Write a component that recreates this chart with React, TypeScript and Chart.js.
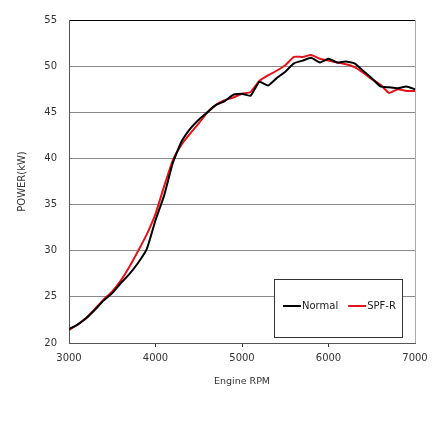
import React, { useEffect, useRef } from 'react';
import { Chart, registerables, ChartConfiguration, Plugin } from 'chart.js';

Chart.register(...registerables);

const rpm = [
  3000, 3100, 3200, 3300, 3400, 3500, 3600, 3700, 3800, 3900,
  4000, 4100, 4200, 4300, 4400, 4500, 4600, 4700, 4800, 4900,
  5000, 5100, 5200, 5300, 5400, 5500, 5600, 5700, 5800, 5900,
  6000, 6100, 6200, 6300, 6400, 6500, 6600, 6700, 6800, 6900, 7000,
];

const normal = [
  21.5, 22.0, 22.7, 23.6, 24.6, 25.4, 26.5, 27.5, 28.7, 30.2,
  33.3, 36.0, 39.5, 41.8, 43.2, 44.2, 45.0, 45.8, 46.2, 46.9,
  47.0, 46.8, 48.3, 47.9, 48.7, 49.4, 50.3, 50.6, 50.9, 50.4,
  50.8, 50.4, 50.5, 50.3, 49.5, 48.7, 47.8, 47.7, 47.6, 47.8, 47.5,
];

const spfR = [
  21.4, 22.0, 22.7, 23.7, 24.7, 25.6, 26.8, 28.3, 30.0, 31.8,
  34.0, 37.0, 39.8, 41.5, 42.7, 43.8, 45.0, 45.8, 46.3, 46.6,
  47.0, 47.2, 48.4, 49.0, 49.5, 50.1, 51.0, 51.0, 51.2, 50.8,
  50.6, 50.4, 50.2, 49.9, 49.3, 48.6, 48.0, 47.1, 47.5, 47.3, 47.3,
];

const seriesNames = ['Normal', 'SPF-R'];
const seriesColors = ['#000000', '#e3131b'];

const FONT = '"DejaVu Sans", Verdana, sans-serif';

// legend box drawn inside the plot, like the original
const boxLegend: Plugin = {
  id: 'boxLegend',
  afterDraw(chart) {
    const { ctx } = chart;
    const x = 274.5;
    const y = 279.5;
    const w = 128;
    const h = 58;
    ctx.save();
    ctx.fillStyle = '#ffffff';
    ctx.fillRect(x, y, w, h);
    ctx.strokeStyle = '#333333';
    ctx.lineWidth = 1;
    ctx.strokeRect(x, y, w, h);
    ctx.font = `10px ${FONT}`;
    ctx.textBaseline = 'middle';
    ctx.textAlign = 'left';
    const cy = 306;
    let cx = 283;
    chart.data.datasets.forEach((ds) => {
      ctx.strokeStyle = ds.borderColor as string;
      ctx.lineWidth = 2;
      ctx.beginPath();
      ctx.moveTo(cx, cy);
      ctx.lineTo(cx + 18, cy);
      ctx.stroke();
      ctx.fillStyle = '#222222';
      ctx.fillText(ds.label as string, cx + 19, cy);
      cx += 19 + ctx.measureText(ds.label as string).width + 10;
    });
    ctx.restore();
  },
};

const App: React.FC = () => {
  const chartRef = useRef<HTMLCanvasElement>(null);
  const chartInstanceRef = useRef<Chart | null>(null);

  useEffect(() => {
    if (!chartRef.current) return;
    const ctx = chartRef.current.getContext('2d');
    if (!ctx) return;
    if (chartInstanceRef.current) chartInstanceRef.current.destroy();

    const config: ChartConfiguration<'line'> = {
      type: 'line',
      data: {
        datasets: [normal, spfR].map((vals, i) => ({
          label: seriesNames[i],
          data: rpm.map((r, j) => ({ x: r, y: vals[j] })),
          borderColor: seriesColors[i],
          borderWidth: 2,
          pointRadius: 0,
          tension: 0.15,
          fill: false,
        })),
      },
      options: {
        responsive: true,
        maintainAspectRatio: false,
        animation: false,
        plugins: {
          legend: { display: false },
          tooltip: { enabled: false },
        },
        layout: { padding: { top: 20, right: 25, left: 0, bottom: 0 } },
        scales: {
          x: {
            type: 'linear',
            min: 3000,
            max: 7000,
            ticks: {
              stepSize: 1000,
              color: '#333333',
              padding: 5,
              maxRotation: 0,
              font: { family: FONT, size: 10 },
              callback: (v) => String(v),
            },
            grid: {
              color: (c) => (c.tick && c.tick.value === 7000 ? '#aaaaaa' : 'rgba(0,0,0,0)'),
              tickColor: (c) => (c.tick && (c.tick.value === 3000 || c.tick.value === 7000) ? 'rgba(0,0,0,0)' : '#333333'),
              tickLength: 4,
              lineWidth: 1,
            },
            border: { display: true, color: '#555555', width: 1 },
            title: {
              display: true,
              text: 'Engine RPM',
              color: '#333333',
              font: { family: FONT, size: 9.5 },
              padding: { top: 0, bottom: 43 },
            },
            afterFit: (scale) => {
              scale.height = 87;
            },
          },
          y: {
            type: 'linear',
            min: 20,
            max: 55,
            ticks: {
              stepSize: 5,
              color: '#333333',
              padding: 12,
              font: { family: FONT, size: 10 },
            },
            grid: {
              color: (c) => (c.tick && c.tick.value === 55 ? '#000000' : '#8a8a8a'),
              drawTicks: false,
              lineWidth: 1,
            },
            border: { display: true, color: '#555555', width: 1 },
            title: {
              display: true,
              text: 'POWER(kW)',
              color: '#333333',
              font: { family: FONT, size: 10 },
              padding: { top: 16, bottom: 0 },
            },
            afterFit: (scale) => {
              scale.width = 69;
            },
          },
        },
      },
      plugins: [boxLegend],
    };

    chartInstanceRef.current = new Chart(ctx, config);

    return () => {
      if (chartInstanceRef.current) {
        chartInstanceRef.current.destroy();
        chartInstanceRef.current = null;
      }
    };
  }, []);

  return (
    <div style={{ position: 'fixed', left: 0, top: 0, width: 440, height: 430, background: '#ffffff' }}>
      <canvas ref={chartRef} style={{ width: '100%', height: '100%' }}></canvas>
    </div>
  );
};

export default App;
